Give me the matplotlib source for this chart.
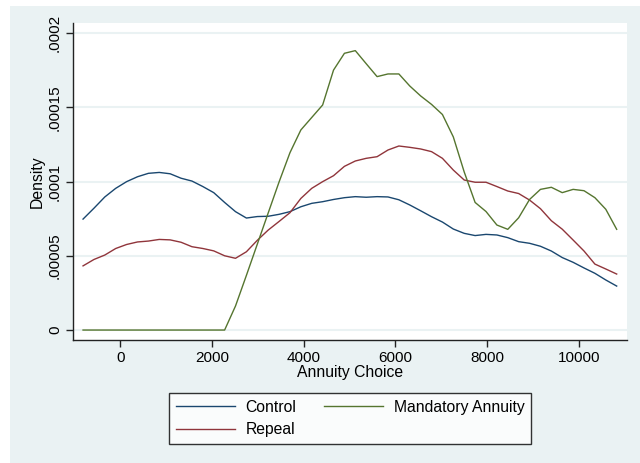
import numpy as np
import matplotlib.pyplot as plt
from matplotlib.patches import Rectangle

# kernel density estimates of annuity choice, evaluated on a 50-point grid
grid_start, grid_end = -813, 10826
annuity = np.linspace(grid_start, grid_end, 50)

# densities in units of 1e-5
control = [7.47, 8.2, 8.96, 9.54, 9.99, 10.32, 10.55, 10.61, 10.52, 10.22,
           10.03, 9.66, 9.25, 8.59, 7.97, 7.54, 7.64, 7.66, 7.79, 7.97,
           8.30, 8.53, 8.64, 8.79, 8.91, 8.98, 8.94, 8.98, 8.96, 8.77,
           8.42, 8.03, 7.63, 7.27, 6.80, 6.51, 6.36, 6.44, 6.40, 6.22,
           5.95, 5.84, 5.64, 5.32, 4.88, 4.56, 4.18, 3.82, 3.37, 2.96]
repeal = [4.32, 4.75, 5.05, 5.49, 5.76, 5.93, 5.99, 6.10, 6.07, 5.91,
          5.61, 5.49, 5.33, 5.00, 4.83, 5.27, 6.04, 6.73, 7.31, 7.90,
          8.86, 9.54, 9.99, 10.39, 11.02, 11.38, 11.56, 11.67, 12.12, 12.39,
          12.30, 12.19, 12.01, 11.56, 10.77, 10.10, 9.95, 9.95, 9.66, 9.36,
          9.19, 8.75, 8.17, 7.36, 6.79, 6.06, 5.32, 4.44, 4.11, 3.77]
mandatory = [0, 0, 0, 0, 0, 0, 0, 0, 0, 0,
             0, 0, 0, 0, 1.62, 3.68, 5.78, 7.88, 9.97, 11.94,
             13.47, 14.31, 15.15, 17.5, 18.63, 18.81, 17.93, 17.06, 17.24, 17.24,
             16.43, 15.76, 15.19, 14.51, 13.0, 10.64, 8.59, 7.98, 7.07, 6.78,
             7.56, 8.79, 9.47, 9.61, 9.25, 9.47, 9.38, 8.91, 8.13, 6.78]

x_ticks = [0, 2000, 4000, 6000, 8000, 10000]
y_ticks = [0, 0.00005, 0.0001, 0.00015, 0.0002]
y_labels = ['0', '.00005', '.0001', '.00015', '.0002']

bg = '#eaf2f3'
navy = '#1a476f'
maroon = '#90353b'
green = '#55752f'

plt.rcParams['font.family'] = ['Liberation Sans', 'DejaVu Sans']

W, H = 640, 463
fig = plt.figure(figsize=(W / 100, H / 100), dpi=100, facecolor='white')
fig.patches.append(Rectangle((10 / W, 0), 1 - 10 / W, 1 - 6 / H,
                             transform=fig.transFigure, facecolor=bg,
                             edgecolor='none', zorder=-10))

ax = fig.add_axes([73 / W, 1 - 340 / H, (627 - 73) / W, (340 - 23) / H])
ax.set_facecolor('white')

scale = 1e-5
ax.plot(annuity, np.array(control) * scale, color=navy, lw=1.0, label='Control')
ax.plot(annuity, np.array(repeal) * scale, color=maroon, lw=1.0, label='Repeal')
ax.plot(annuity, np.array(mandatory) * scale, color=green, lw=1.0,
        label='Mandatory Annuity')

ax.set_xlim(-1032, 11051)
ax.set_ylim(-0.0000067, 0.0002067)
ax.set_xticks(x_ticks)
ax.set_xticklabels([str(t) for t in x_ticks])
ax.set_yticks(y_ticks)
ax.set_yticklabels(y_labels, rotation=90, va='center')

ax.grid(axis='y', color=bg, lw=1.5)
ax.set_axisbelow(True)
for side in ['top', 'right']:
    ax.spines[side].set_visible(False)
for side in ['left', 'bottom']:
    ax.spines[side].set_color('#222222')
    ax.spines[side].set_linewidth(1.0)
ax.tick_params(direction='out', length=5, width=1.0, color='#222222',
               labelsize=11, pad=3)

ax.set_xlabel('Annuity Choice', fontsize=11.3, labelpad=0)
ax.set_ylabel('Density', fontsize=11.3, labelpad=2)

leg = fig.legend(loc='center', bbox_to_anchor=(350 / W, 1 - 418.5 / H),
                 ncol=2, fontsize=11.3, frameon=True, fancybox=False,
                 edgecolor='black', handlelength=3.8, handletextpad=0.65,
                 columnspacing=1.75, borderpad=0.45, labelspacing=0.45)
leg.get_frame().set_linewidth(1.0)

fig.savefig('out.png', dpi=100, facecolor=fig.get_facecolor())
